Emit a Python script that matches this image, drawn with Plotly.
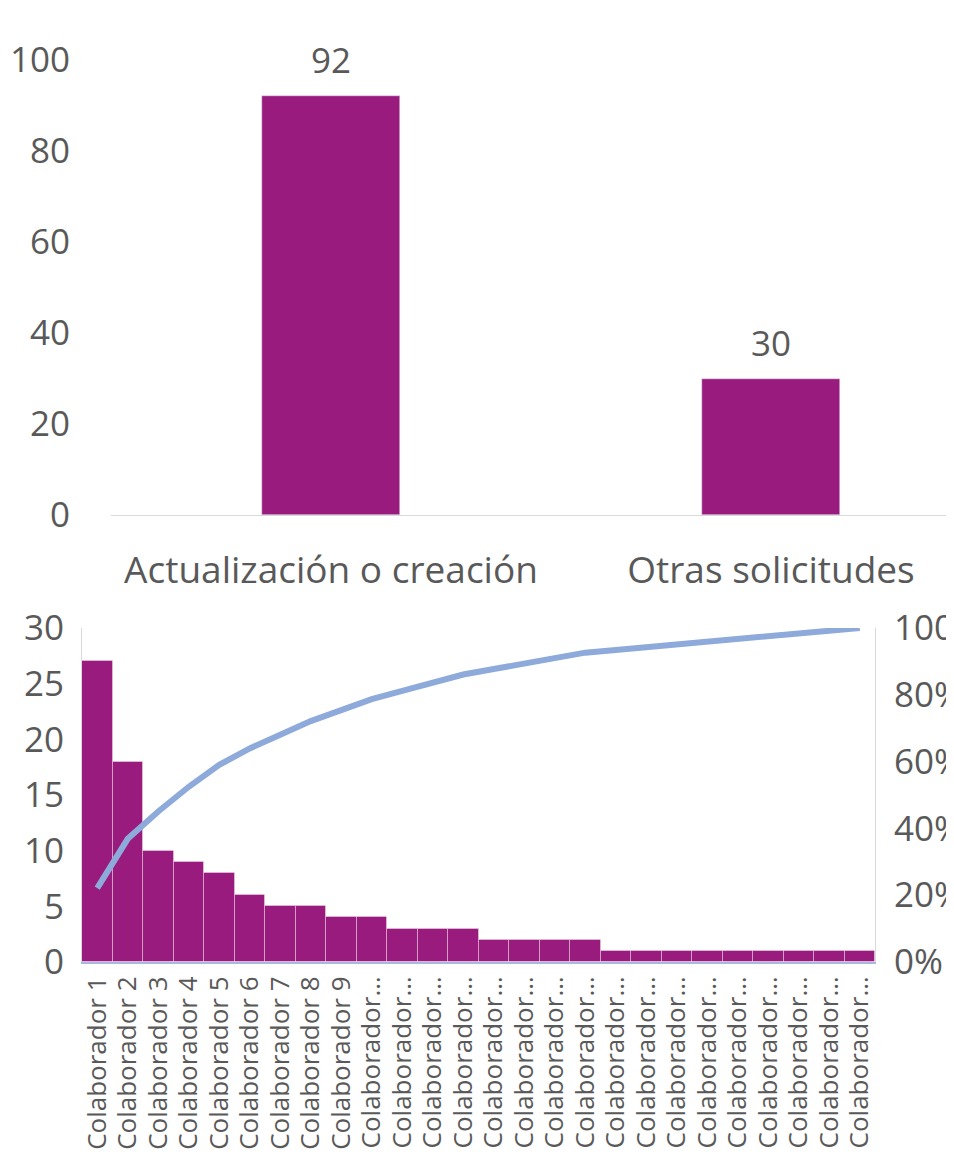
import numpy as np
import plotly.graph_objects as go

# top chart: request type counts
tipos = ["Actualización o creación", "Otras solicitudes"]
conteo_tipos = [92, 30]

# bottom chart: requests per collaborator (pareto)
colaboradores = ["Colaborador %d" % i for i in range(1, 27)]
etiquetas_colab = [c if len(c) <= 13 else "Colaborador…" for c in colaboradores]
conteo_colab = [27, 18, 10, 9, 8, 6, 5, 5, 4, 4, 3, 3, 3, 2, 2, 2, 2,
                1, 1, 1, 1, 1, 1, 1, 1, 1]

acumulado = np.cumsum(conteo_colab) / np.sum(conteo_colab)

PURPLE = "#991b7e"
LINE = "#8eaadb"
TXT = "#595959"
FONT = "Open Sans, sans-serif"
# the page body has an 8px margin, so the figure is 8px smaller
W, H = 946, 1150
OFF = 8


def px_x(p):
    return (p - OFF) / W


def px_y(p):
    return 1 - (p - OFF) / H


fig = go.Figure()

fig.add_trace(go.Bar(
    x=tipos, y=conteo_tipos,
    marker=dict(color=PURPLE),
    width=0.314,
    xaxis="x", yaxis="y"))

for t, v in zip(tipos, conteo_tipos):
    fig.add_annotation(x=t, y=v, xref="x", yref="y", text=str(v),
                       showarrow=False, yanchor="bottom", yshift=11,
                       font=dict(size=35, color=TXT, family=FONT))

fig.add_trace(go.Bar(
    x=colaboradores, y=conteo_colab,
    marker=dict(color=PURPLE, line=dict(color="rgba(255,255,255,0.35)", width=1)),
    xaxis="x2", yaxis="y2"))

fig.add_trace(go.Scatter(
    x=colaboradores, y=acumulado, mode="lines",
    line=dict(color=LINE, width=6),
    xaxis="x2", yaxis="y3"))

tick_font = dict(size=35, color=TXT, family=FONT)

fig.update_layout(
    width=W, height=H,
    margin=dict(l=0, r=0, t=0, b=0),
    paper_bgcolor="white", plot_bgcolor="white",
    showlegend=False, bargap=0,
    font=dict(family=FONT, color=TXT),
    xaxis=dict(domain=[px_x(111), 1], range=[-0.5, 1.416], showline=True,
               linecolor="#d9d9d9", linewidth=1, ticks="", automargin=False,
               tickfont=dict(size=37, color=TXT, family=FONT),
               ticklabelstandoff=23, anchor="y"),
    yaxis=dict(domain=[px_y(515), px_y(60)], range=[0, 100], dtick=20,
               showgrid=False, zeroline=False, showline=False, automargin=False,
               tickfont=tick_font, ticklabelstandoff=40, anchor="x"),
    xaxis2=dict(domain=[px_x(82), px_x(875)], range=[-0.5, 25.5], anchor="y2",
                showline=True, linecolor="#a9b8e0", linewidth=2, ticks="",
                tickangle=-90, tickmode="array", tickvals=colaboradores,
                ticktext=etiquetas_colab, automargin=False,
                ticklabelstandoff=2,
                tickfont=dict(size=26, color=TXT, family=FONT)),
    yaxis2=dict(domain=[px_y(962), px_y(628)], range=[0, 30], dtick=5,
                showgrid=False, zeroline=False, showline=True, linecolor="#d9d9d9",
                linewidth=1, automargin=False, tickfont=tick_font,
                ticklabelstandoff=10, anchor="x2"),
    yaxis3=dict(domain=[px_y(962), px_y(628)], range=[0, 1], dtick=0.2,
                tickformat=".0%", overlaying="y2", side="right", anchor="x2",
                showgrid=False, zeroline=False, showline=True, linecolor="#d9d9d9",
                linewidth=1, automargin=False, tickfont=tick_font,
                ticklabelstandoff=11),
)

fig.write_html("out.html")
